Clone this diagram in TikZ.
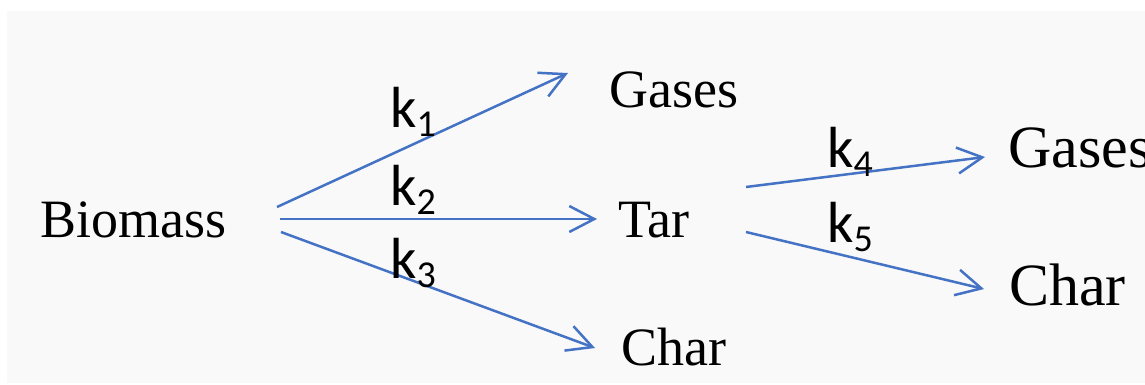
\documentclass[tikz,border=0pt]{standalone}
\usepackage{fontspec}
\setmainfont{Liberation Serif}
\newfontfamily\kfont{Carlito}
\usetikzlibrary{arrows.meta}
\definecolor{arrowblue}{HTML}{4472C4}
\definecolor{bggray}{HTML}{F9F9F9}
\tikzset{
  species/.style={inner sep=0pt, anchor=base west, font=\fontsize{54}{54}\selectfont},
  bigspecies/.style={inner sep=0pt, anchor=base west, font=\fontsize{60}{60}\selectfont},
  rate/.style={inner sep=0pt, anchor=base west, font=\kfont\fontsize{58}{58}\selectfont},
  react/.style={draw=arrowblue, line width=2.5pt, -{Straight Barb[length=25pt,width=26pt,line width=2.5pt]}}
}
\newcommand{\kk}[1]{k\raisebox{-9pt}{\fontsize{38}{38}\selectfont #1}}
\begin{document}
\begin{tikzpicture}[x=1pt,y=-1pt]
\useasboundingbox (0,0) rectangle (1145,384);
\fill[bggray] (7,11) rectangle (1145,383);
% species
\node[species] (bio) at (40,237) {Biomass};
\node[species] (gas1) at (609,107) {Gases};
\node[species] (tar) at (618,237) {Tar};
\node[species] (char1) at (621,365) {Char};
\node[bigspecies] (gas2) at (1008,167) {Gases};
\node[bigspecies] (char2) at (1009,305) {Char};
% connector end points
\coordinate (b1) at (277,207);
\coordinate (b2) at (280,219);
\coordinate (b3) at (281,232);
\coordinate (g1) at (568,73);
\coordinate (t1) at (597,219);
\coordinate (c1) at (595,348);
\coordinate (t4) at (746,187);
\coordinate (t5) at (746,232);
\coordinate (g2) at (985,157);
\coordinate (c2) at (984,289);
% arrows
\draw[react] (b1) -- (g1);
\draw[react] (b2) -- (t1);
\draw[react] (b3) -- (c1);
\draw[react] (t4) -- (g2);
\draw[react] (t5) -- (c2);
% rate constants
\node[rate] (k1) at (390,127) {\kk{1}};
\node[rate] (k2) at (390,205) {\kk{2}};
\node[rate] (k3) at (390,278) {\kk{3}};
\node[rate] (k4) at (827,167) {\kk{4}};
\node[rate] (k5) at (827,242) {\kk{5}};
\end{tikzpicture}
\end{document}
